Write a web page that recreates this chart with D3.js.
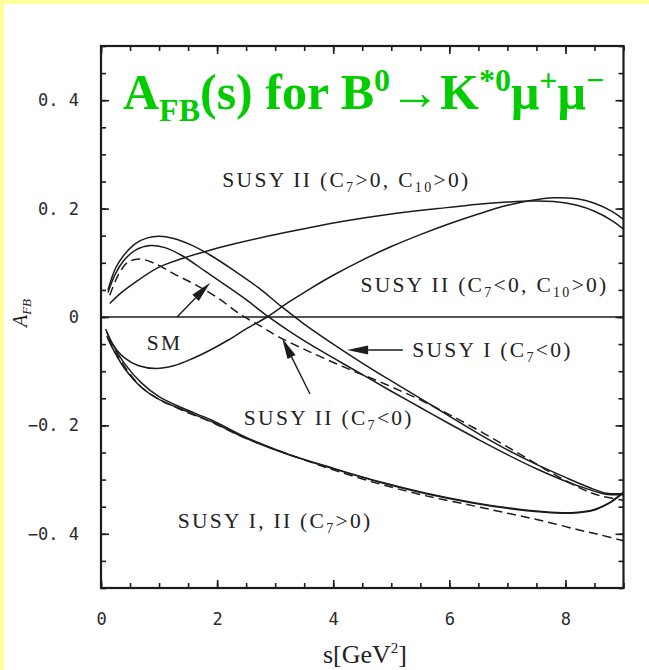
<!DOCTYPE html>
<html>
<head>
<meta charset="utf-8">
<script src="https://cdn.jsdelivr.net/npm/d3@7"></script>
<style>
  html, body { margin: 0; padding: 0; background: #ffffff; }
  svg { display: block; }
</style>
</head>
<body>
<svg id="chart" width="649" height="670"></svg>
<script>
// ---- Axis ticks ----
const xMajorTicks = [0, 2, 4, 6, 8];
const xTickLabels = ["0", "2", "4", "6", "8"];
const yMajorTicks = [-0.4, -0.2, 0, 0.2, 0.4];
const yTickLabels = ["\u22120. 4", "\u22120. 2", "0", "0. 2", "0. 4"];

// ---- Curves: s [GeV^2] and A_FB values ----
// SUSY I (C7<0)
const susyI_neg_s = [0.12, 0.25, 0.4, 0.6, 0.8, 1.0, 1.25, 1.55, 1.9, 2.3, 2.7, 3.1, 3.5, 4.0, 4.5, 5.0, 5.5, 6.0, 6.5, 7.0, 7.5, 8.0, 8.4, 8.7, 9.0];
const susyI_neg_a = [0.05, 0.09, 0.115, 0.136, 0.146, 0.149, 0.145, 0.133, 0.113, 0.085, 0.055, 0.02, -0.013, -0.05, -0.085, -0.118, -0.15, -0.183, -0.215, -0.245, -0.272, -0.296, -0.314, -0.325, -0.326];

// SUSY II (C7<0)
const susyII_neg_s = [0.12, 0.25, 0.4, 0.6, 0.85, 1.1, 1.4, 1.8, 2.1, 2.5, 2.85, 3.3, 3.8, 4.4, 5.0, 5.5, 6.0, 6.5, 7.0, 7.5, 8.0, 8.4, 8.7, 9.0];
const susyII_neg_a = [0.045, 0.08, 0.105, 0.124, 0.132, 0.128, 0.113, 0.084, 0.062, 0.032, 0.003, -0.03, -0.063, -0.1, -0.137, -0.167, -0.197, -0.226, -0.254, -0.28, -0.303, -0.318, -0.327, -0.328];

// Standard Model (dashed)
const sm_s = [0.15, 0.3, 0.45, 0.65, 0.9, 1.25, 1.6, 2.0, 2.4, 2.8, 3.05, 3.55, 4.2, 4.9, 5.5, 6.0, 6.6, 7.2, 7.8, 8.3, 8.6, 9.0];
const sm_a = [0.04, 0.078, 0.1, 0.107, 0.1, 0.08, 0.061, 0.036, 0.005, -0.02, -0.036, -0.062, -0.093, -0.124, -0.153, -0.18, -0.215, -0.252, -0.29, -0.318, -0.33, -0.338];

// SUSY II (C7>0, C10>0)
const susyII_pp_s = [0.15, 0.35, 0.6, 1.0, 1.4, 1.8, 2.3, 2.9, 3.5, 4.2, 5.0, 5.8, 6.5, 7.0, 7.4, 7.8, 8.2, 8.5, 8.8, 9.0];
const susyII_pp_a = [0.025, 0.045, 0.065, 0.092, 0.108, 0.121, 0.135, 0.15, 0.163, 0.177, 0.19, 0.2, 0.208, 0.212, 0.214, 0.213, 0.206, 0.195, 0.178, 0.162];

// SUSY II (C7<0, C10>0)
const susyII_np_s = [0.08, 0.2, 0.4, 0.65, 0.95, 1.25, 1.55, 1.9, 2.2, 2.5, 2.86, 3.2, 3.6, 4.0, 4.5, 5.0, 5.5, 6.0, 6.5, 7.0, 7.4, 7.8, 8.2, 8.5, 8.8, 9.0];
const susyII_np_a = [-0.022, -0.05, -0.075, -0.09, -0.095, -0.09, -0.078, -0.06, -0.042, -0.022, 0.0, 0.025, 0.052, 0.077, 0.105, 0.13, 0.152, 0.172, 0.19, 0.206, 0.215, 0.22, 0.218, 0.21, 0.195, 0.18];

// SUSY I (C7>0)
const susyI_pos_s = [0.1, 0.2, 0.4, 0.7, 1.0, 1.4, 1.9, 2.5, 3.2, 4.0, 4.8, 5.6, 6.4, 7.0, 7.6, 8.1, 8.5, 8.75, 9.0];
const susyI_pos_a = [-0.028, -0.05, -0.085, -0.122, -0.147, -0.168, -0.19, -0.222, -0.252, -0.279, -0.304, -0.325, -0.342, -0.352, -0.359, -0.361, -0.355, -0.343, -0.323];

// SUSY II (C7>0)
const susyII_pos_s = [0.1, 0.2, 0.4, 0.7, 1.0, 1.4, 1.9, 2.5, 3.2, 4.0, 4.8, 5.6, 6.4, 7.0, 7.6, 8.1, 8.5, 8.75, 9.0];
const susyII_pos_a = [-0.035, -0.058, -0.094, -0.13, -0.152, -0.171, -0.193, -0.224, -0.253, -0.28, -0.305, -0.326, -0.343, -0.353, -0.36, -0.362, -0.356, -0.344, -0.324];

// SUSY I/II (C7>0), dashed variant
const susyPos_d_s = [0.12, 0.25, 0.45, 0.7, 1.0, 1.4, 1.9, 2.5, 3.2, 4.0, 4.8, 5.6, 6.4, 7.0, 7.6, 8.2, 8.6, 9.0];
const susyPos_d_a = [-0.04, -0.065, -0.098, -0.13, -0.152, -0.172, -0.194, -0.224, -0.252, -0.282, -0.308, -0.33, -0.348, -0.362, -0.376, -0.392, -0.402, -0.413];

// ---- Annotation anchors (data coordinates) ----
const arrowTail = [[1.31, 0.0], [5.2, -0.061], [3.6, -0.142]];
const arrowTip  = [[1.88, 0.063], [4.24, -0.061], [3.12, -0.039]];

const labelText = [
  [["SUSY II (C"], ["7", "sub"], [">0, C"], ["10", "sub"], [">0)"]],
  [["SUSY II (C"], ["7", "sub"], ["<0, C"], ["10", "sub"], [">0)"]],
  [["SUSY I (C"], ["7", "sub"], ["<0)"]],
  [["SM"]],
  [["SUSY II (C"], ["7", "sub"], ["<0)"]],
  [["SUSY I, II (C"], ["7", "sub"], [">0)"]]
];
const labelS = [2.09, 4.47, 5.36, 0.79, 2.46, 1.32];
const labelA = [0.24, 0.047, -0.073, -0.061, -0.2, -0.389];

// ---- Chart ----
const W = 649, H = 670;
const svg = d3.select("#chart");

// page backdrop: pale-yellow strips along top and left edges
svg.append("rect").attr("x", 0).attr("y", 0).attr("width", W).attr("height", H).attr("fill", "#ffff99");
svg.append("rect").attr("x", 4).attr("y", 4).attr("width", W - 4).attr("height", H - 4).attr("fill", "#ffffff");

const x = d3.scaleLinear().domain([0, 9]).range([101, 623.5]);
const y = d3.scaleLinear().domain([-0.5, 0.5]).range([588, 46]);

const ink = "#1c1c1c";

const defs = svg.append("defs");
defs.append("clipPath").attr("id", "plotClip")
  .append("rect")
  .attr("x", x(0)).attr("y", y(0.5))
  .attr("width", x(9) - x(0)).attr("height", y(-0.5) - y(0.5));

// minor / major ticks on all four sides, pointing inward
const xMinor = d3.range(0, 9.001, 0.5);
const yMinor = d3.range(-0.5, 0.5001, 0.05);

function styleAxis(g) {
  g.select(".domain").remove();
  g.selectAll(".tick line").attr("stroke", ink).attr("stroke-width", 1.6);
}

svg.append("g").attr("transform", `translate(0,${y(-0.5)})`)
  .call(d3.axisBottom(x).tickValues(xMinor).tickSize(-5).tickFormat("")).call(styleAxis);
svg.append("g").attr("transform", `translate(0,${y(0.5)})`)
  .call(d3.axisTop(x).tickValues(xMinor).tickSize(-5).tickFormat("")).call(styleAxis);
svg.append("g").attr("transform", `translate(${x(0)},0)`)
  .call(d3.axisLeft(y).tickValues(yMinor).tickSize(-5).tickFormat("")).call(styleAxis);
svg.append("g").attr("transform", `translate(${x(9)},0)`)
  .call(d3.axisRight(y).tickValues(yMinor).tickSize(-5).tickFormat("")).call(styleAxis);

const xAxisMajor = svg.append("g").attr("transform", `translate(0,${y(-0.5)})`)
  .call(d3.axisBottom(x).tickValues(xMajorTicks).tickSize(-8).tickPadding(25)
    .tickFormat((d, i) => xTickLabels[i]))
  .call(styleAxis);
svg.append("g").attr("transform", `translate(0,${y(0.5)})`)
  .call(d3.axisTop(x).tickValues(xMajorTicks).tickSize(-8).tickFormat("")).call(styleAxis);
const yAxisMajor = svg.append("g").attr("transform", `translate(${x(0)},0)`)
  .call(d3.axisLeft(y).tickValues(yMajorTicks).tickSize(-8).tickPadding(22)
    .tickFormat((d, i) => yTickLabels[i]))
  .call(styleAxis);
svg.append("g").attr("transform", `translate(${x(9)},0)`)
  .call(d3.axisRight(y).tickValues(yMajorTicks).tickSize(-8).tickFormat("")).call(styleAxis);

[xAxisMajor, yAxisMajor].forEach(g => g.selectAll(".tick text")
  .attr("font-family", "'DejaVu Sans Mono', monospace")
  .attr("font-size", 17)
  .attr("fill", "#2a2a2a"));

// frame
svg.append("rect")
  .attr("x", x(0)).attr("y", y(0.5))
  .attr("width", x(9) - x(0)).attr("height", y(-0.5) - y(0.5))
  .attr("fill", "none").attr("stroke", ink).attr("stroke-width", 2.2);

// zero line
svg.append("line")
  .attr("x1", x(0)).attr("x2", x(9)).attr("y1", y(0)).attr("y2", y(0))
  .attr("stroke", ink).attr("stroke-width", 1.6);

// curves
const series = [
  { s: susyI_neg_s, a: susyI_neg_a, dash: null },
  { s: susyII_neg_s, a: susyII_neg_a, dash: null },
  { s: sm_s, a: sm_a, dash: "9,5" },
  { s: susyII_pp_s, a: susyII_pp_a, dash: null },
  { s: susyII_np_s, a: susyII_np_a, dash: null },
  { s: susyI_pos_s, a: susyI_pos_a, dash: null },
  { s: susyII_pos_s, a: susyII_pos_a, dash: null },
  { s: susyPos_d_s, a: susyPos_d_a, dash: "9,5" }
];

const line = d3.line()
  .x(d => x(d[0])).y(d => y(d[1]))
  .curve(d3.curveCatmullRom.alpha(0.5));

const curves = svg.append("g").attr("clip-path", "url(#plotClip)");
series.forEach(sr => {
  const pts = sr.s.map((v, i) => [v, sr.a[i]]);
  curves.append("path")
    .attr("d", line(pts))
    .attr("fill", "none")
    .attr("stroke", ink)
    .attr("stroke-width", 1.5)
    .attr("stroke-dasharray", sr.dash);
});

// arrows with slim filled heads
const headLen = 21, headHalf = 4.5;
arrowTail.forEach((t, i) => {
  const x0 = x(t[0]), y0 = y(t[1]);
  const x1 = x(arrowTip[i][0]), y1 = y(arrowTip[i][1]);
  const ang = Math.atan2(y1 - y0, x1 - x0);
  const bx = x1 - headLen * Math.cos(ang), by = y1 - headLen * Math.sin(ang);
  svg.append("line")
    .attr("x1", x0).attr("y1", y0).attr("x2", bx).attr("y2", by)
    .attr("stroke", ink).attr("stroke-width", 1.4);
  const nx = -Math.sin(ang) * headHalf, ny = Math.cos(ang) * headHalf;
  svg.append("path")
    .attr("d", `M${x1},${y1}L${bx + nx},${by + ny}L${bx - nx},${by - ny}Z`)
    .attr("fill", ink);
});

// curve labels
labelText.forEach((parts, i) => {
  const t = svg.append("text")
    .attr("x", x(labelS[i])).attr("y", y(labelA[i]))
    .attr("font-family", "'Liberation Serif', 'Times New Roman', serif")
    .attr("font-size", 21.5)
    .attr("letter-spacing", 2.3)
    .attr("fill", "#222");
  let shifted = false;
  parts.forEach(p => {
    const ts = t.append("tspan").text(p[0]);
    if (p[1] === "sub") {
      ts.attr("font-size", 14).attr("dy", 5);
      shifted = true;
    } else if (shifted) {
      ts.attr("dy", -5);
      shifted = false;
    }
  });
});

// title
const title = svg.append("text")
  .attr("x", 123).attr("y", 109)
  .attr("font-family", "'Liberation Serif', 'Times New Roman', serif")
  .attr("font-weight", "bold")
  .attr("font-size", 50)
  .attr("fill", "#00cc00");
const titleParts = [
  ["A", 0], ["FB", 1], ["(s) for B", 0], ["0", 2], ["\u2192K", 0], ["*0", 2],
  ["\u03bc", 0], ["+", 2], ["\u03bc", 0], ["\u2212", 2]
];
let level = 0;
titleParts.forEach(([txt, lv]) => {
  const shift = { 0: 0, 1: 12, 2: -18 };
  const ts = title.append("tspan").text(txt).attr("dy", shift[lv] - shift[level]);
  if (lv !== 0) ts.attr("font-size", 32);
  level = lv;
});

// axis titles
const xt = svg.append("text")
  .attr("x", 365).attr("y", 663)
  .attr("text-anchor", "middle")
  .attr("font-family", "'Liberation Serif', 'Times New Roman', serif")
  .attr("font-size", 26)
  .attr("fill", "#222");
xt.append("tspan").text("s[GeV");
xt.append("tspan").text("2").attr("font-size", 15).attr("dy", -10);
xt.append("tspan").text("]").attr("dy", 10);

const yt = svg.append("text")
  .attr("transform", "translate(27,313) rotate(-90)")
  .attr("text-anchor", "middle")
  .attr("font-family", "'Liberation Serif', 'Times New Roman', serif")
  .attr("font-style", "italic")
  .attr("font-size", 20)
  .attr("fill", "#222");
yt.append("tspan").text("A");
yt.append("tspan").text("FB").attr("font-size", 13).attr("dy", 4);
</script>
</body>
</html>
